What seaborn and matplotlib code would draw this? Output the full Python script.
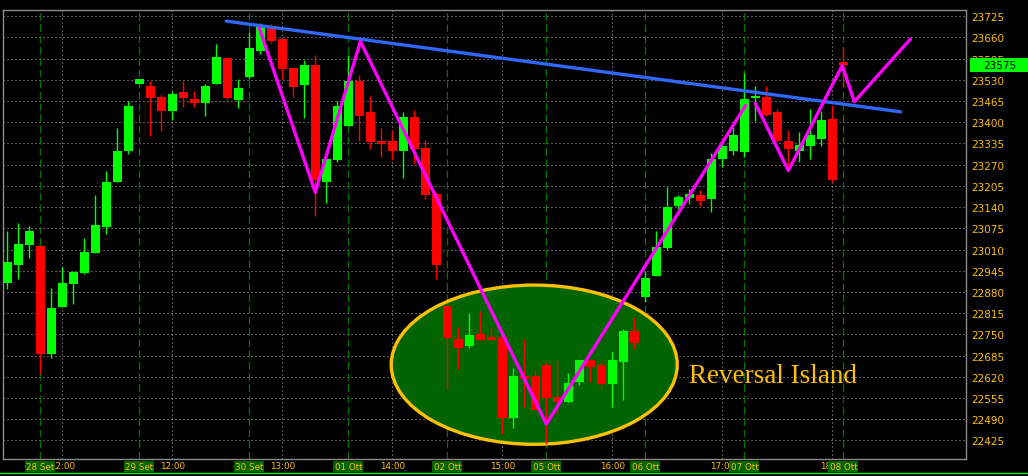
"""
plot.py - Candlestick chart with a reversal island pattern.
"""

import numpy as np
import pandas as pd
import matplotlib
matplotlib.use("Agg")  # no display in the sandbox
import matplotlib.pyplot as plt
import matplotlib.transforms as mtransforms
from matplotlib.patches import Ellipse, Rectangle
from matplotlib.lines import Line2D
import seaborn as sns

# --- candle data ---
opens = [22908, 22963, 23024, 23021, 22690, 22834, 22904, 22938, 22999, 23079,
         23217, 23312, 23518, 23511, 23478, 23435, 23493, 23472, 23459, 23518,
         23597, 23469, 23539, 23619, 23689, 23656, 23567, 23514, 23576, 23217,
         23284, 23389, 23527, 23432, 23343, 23343, 23312, 23416, 23321, 23180,
         22836, 22736, 22714, 22751, 22742, 22742, 22493, 22622, 22622, 22656,
         22558, 22543, 22604, 22671, 22656, 22598, 22665, 22760, 22864, 22929,
         23015, 23143, 23168, 23177, 23165, 23288, 23312, 23309, 23475, 23478,
         23432, 23343, 23312, 23327, 23349, 23410, 23584]
highs = [23067, 23091, 23082, 23021, 22892, 22956, 22944, 23045, 23177, 23251,
         23383, 23465, 23533, 23527, 23487, 23496, 23527, 23496, 23518, 23640,
         23600, 23533, 23677, 23705, 23702, 23656, 23567, 23591, 23606, 23288,
         23465, 23606, 23545, 23481, 23383, 23377, 23432, 23438, 23346, 23187,
         22836, 22773, 22815, 22822, 22773, 22742, 22647, 22736, 22641, 22662,
         22671, 22631, 22671, 22671, 22668, 22696, 22766, 22803, 22944, 23067,
         23202, 23177, 23196, 23193, 23306, 23346, 23386, 23551, 23511, 23511,
         23441, 23377, 23370, 23441, 23435, 23453, 23631]
lows = [22889, 22920, 22984, 22628, 22677, 22834, 22843, 22935, 22999, 23058,
        23217, 23303, 23518, 23358, 23373, 23407, 23447, 23447, 23419, 23518,
        23469, 23444, 23533, 23610, 23643, 23533, 23478, 23413, 23113, 23153,
        23278, 23389, 23343, 23318, 23294, 23285, 23229, 23272, 23165, 22921,
        22580, 22645, 22708, 22733, 22733, 22444, 22463, 22527, 22518, 22414,
        22506, 22543, 22595, 22604, 22582, 22527, 22549, 22705, 22849, 22929,
        23009, 23134, 23150, 23143, 23125, 23263, 23300, 23294, 23404, 23419,
        23340, 23267, 23278, 23288, 23327, 23217, 23508]
closes = [22972, 23027, 23067, 22690, 22831, 22907, 22941, 23002, 23085, 23217,
          23312, 23450, 23533, 23475, 23435, 23487, 23475, 23459, 23511, 23600,
          23475, 23505, 23628, 23694, 23649, 23564, 23508, 23576, 23223, 23288,
          23450, 23527, 23419, 23340, 23334, 23312, 23416, 23318, 23178, 22964,
          22739, 22708, 22748, 22733, 22733, 22493, 22622, 22613, 22518, 22555,
          22543, 22601, 22671, 22650, 22598, 22671, 22760, 22723, 22923, 23018,
          23140, 23171, 23180, 23159, 23288, 23327, 23361, 23472, 23481, 23423,
          23343, 23318, 23331, 23361, 23407, 23223, 23575]

# --- axis labels ---
day_pos = [3, 12, 22, 31, 40, 49, 58, 67, 76]
day_labels = ["28 Set", "29 Set", "30 Set", "01 Ott", "02 Ott",
              "05 Ott", "06 Ott", "07 Ott", "08 Ott"]
hour_pos = [5, 15, 25, 35, 45, 55, 65, 75]
hour_labels = ["12:00", "12:00", "13:00", "14:00", "15:00", "16:00", "17:00", "18:00"]
price_ticks = list(range(22425, 23726, 65))

# --- drawn annotations (trendline, zigzag, island) ---
trend_x = [19.9, 81.2]
trend_y = [23710, 23432]
zig1_x = [22.9, 28.0, 32.1, 49.0, 67.1]
zig1_y = [23689, 23185, 23648, 22475, 23451]
zig2_x = [68.0, 71.0, 75.9, 77.0, 82.1]
zig2_y = [23458, 23252, 23574, 23463, 23655]
island_center = (47.9, 22657)
island_size = (26.0, 488)

GOLD = "#FFC000"
GRID = "#B4ACB4"
UP = "#00FF00"
DOWN = "#FF0000"

df = pd.DataFrame({"open": opens, "high": highs, "low": lows, "close": closes})
df["idx"] = np.arange(len(df))
df["color"] = np.where(df["close"] >= df["open"], UP, DOWN)

sns.set_style("dark", rc={"axes.facecolor": "black", "figure.facecolor": "black"})
plt.rcParams["font.family"] = ["DejaVu Sans"]

fig = plt.figure(figsize=(10.28, 4.77), dpi=100)
ax = fig.add_axes([3 / 1028, 17 / 477, 963 / 1028, 449 / 477])
ax.set_facecolor("black")

# grid: dotted price/hour lines, dashed green day separators
for p in price_ticks:
    ax.axhline(p, color=GRID, lw=0.72, ls=(0, (1, 3)), zorder=0.5)
for p in hour_pos:
    ax.axvline(p, color=GRID, lw=0.72, ls=(0, (1, 3)), zorder=0.5)
for p in day_pos:
    ax.axvline(p, color="#007800", lw=0.9, ls=(0, (6, 3)), zorder=0.6)

ax.add_patch(Ellipse(island_center, island_size[0], island_size[1],
                     facecolor="#006400", edgecolor=GOLD, lw=2.4, zorder=1))

# candles
ax.vlines(df["idx"], df["low"], df["high"], colors=df["color"], lw=1.0, zorder=2)
ax.bar(df["idx"], df["close"] - df["open"], bottom=df["open"], width=0.8,
       color=df["color"], linewidth=0, zorder=3)

sns.lineplot(x=trend_x, y=trend_y, ax=ax, color="#3068FF", lw=2.4, sort=False, zorder=4)
sns.lineplot(x=zig1_x, y=zig1_y, ax=ax, color="#FF00FF", lw=2.4, sort=False, zorder=4)
sns.lineplot(x=zig2_x, y=zig2_y, ax=ax, color="#FF00FF", lw=2.4, sort=False, zorder=4)

ax.text(62.0, 22605, "Reversal Island", family=["Liberation Serif"], fontsize=19.5,
        color=GOLD, ha="left", va="baseline", zorder=5)

ax.set_xlim(-0.39, 87.15)
ax.set_ylim(22368, 23744)
ax.set_xlabel("")
ax.set_ylabel("")
ax.grid(False)

ax.yaxis.tick_right()
ax.set_yticks(price_ticks)
ax.tick_params(axis="y", length=0, pad=4, labelcolor=GOLD, labelsize=7.5)
ax.set_xticks(hour_pos, hour_labels)
ax.tick_params(axis="x", length=0, pad=1.5, labelcolor=GOLD, labelsize=6.3)

for s in ax.spines.values():
    s.set_visible(True)
    s.set_color("#8C8C8C")
    s.set_linewidth(1.0)

# date boxes under the day separators
blend = mtransforms.blended_transform_factory(ax.transData, ax.transAxes)
for p, lab in zip(day_pos, day_labels):
    ax.add_patch(Rectangle((p - 1.36, -0.029), 2.73, 0.025, transform=blend,
                           facecolor="#006400", edgecolor="none", clip_on=False, zorder=6))
    ax.text(p, -0.0165, lab, transform=blend, ha="center", va="center",
            color=GOLD, fontsize=6.3, clip_on=False, zorder=7)

# current price marker on the right axis
last = closes[-1]
pblend = mtransforms.blended_transform_factory(ax.transAxes, ax.transData)
ax.add_patch(Rectangle((1.0042, last - 22), 0.062, 44, transform=pblend,
                       facecolor=UP, edgecolor="none", clip_on=False, zorder=6))
ax.text(1.0353, last, str(last), transform=pblend, ha="center", va="center",
        color="black", fontsize=7.5, clip_on=False, zorder=7)

fig.add_artist(Line2D([0, 1], [2.7 / 477, 2.7 / 477], transform=fig.transFigure,
                      color=UP, lw=1.0))

fig.savefig("out.png", dpi=100, facecolor="black")
plt.close(fig)
